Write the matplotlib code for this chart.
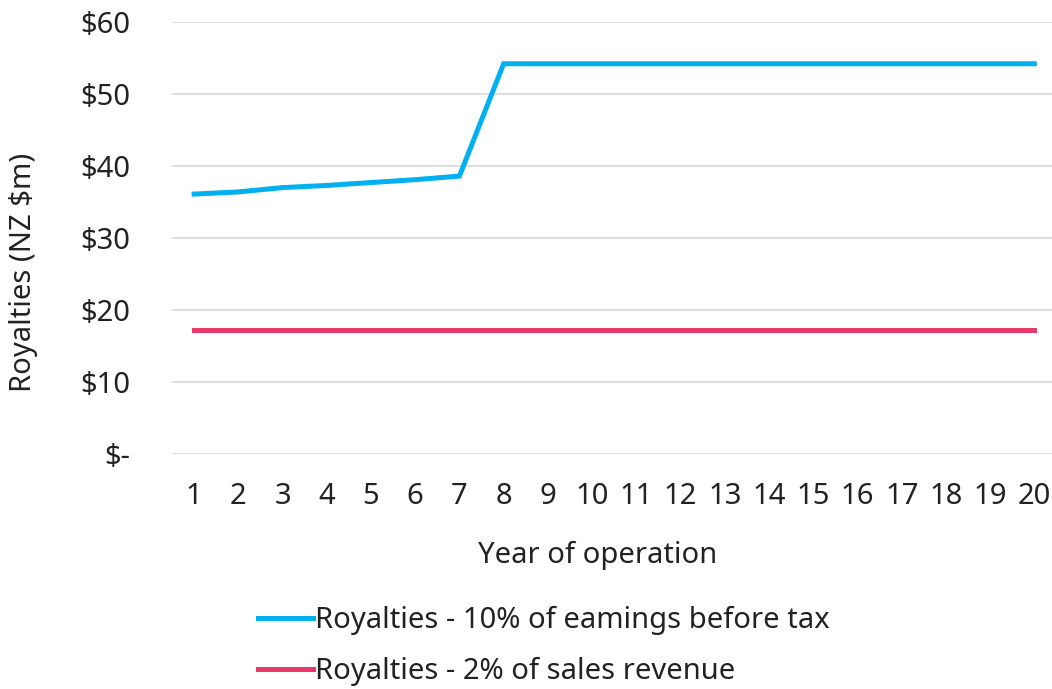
import matplotlib
matplotlib.use("Agg")

import matplotlib.pyplot as plt
from matplotlib.lines import Line2D

years = list(range(1, 21))
royalties_ebt = [36.1, 36.4, 37.0, 37.3, 37.7, 38.1, 38.6] + [54.2] * 13
royalties_sales = [17.2] * 20

y_ticks = [0, 10, 20, 30, 40, 50, 60]
y_labels = ["$-", "$10", "$20", "$30", "$40", "$50", "$60"]

label_ebt = "Royalties - 10% of eamings before tax"
label_sales = "Royalties - 2% of sales revenue"

blue = "#00B0F0"
red = "#E8386C"
txt = "#222222"
fs = 21

plt.rcParams["font.family"] = ["Noto Sans", "DejaVu Sans"]

fig = plt.figure(figsize=(10.52, 6.89), dpi=100)
ax = fig.add_axes([172 / 1052, 1 - 454 / 689, 880 / 1052, 432 / 689])

ax.plot(years, royalties_ebt, color=blue, linewidth=3.6, solid_joinstyle="miter")
ax.plot(years, royalties_sales, color=red, linewidth=3.6)

ax.set_xlim(0.5, 20.4)
ax.set_ylim(0, 60)
ax.set_yticks(y_ticks)
ax.set_yticklabels(y_labels)
ax.set_xticks(years)
ax.tick_params(axis="both", length=0, labelsize=fs, colors=txt)
ax.tick_params(axis="y", pad=30)
ax.tick_params(axis="x", pad=20)

ax.grid(axis="y", color="#D9D9D9", linewidth=1.2)
ax.set_axisbelow(True)
for s in ax.spines.values():
    s.set_visible(False)

fig.text(598 / 1052, 1 - 555 / 689, "Year of operation", ha="center",
         va="center", fontsize=fs, color=txt)
fig.text(24 / 1052, 1 - 272 / 689, "Royalties (NZ $m)", rotation=90,
         ha="center", va="center", fontsize=fs, color=txt)

handles = [Line2D([], [], color=blue, linewidth=3.6),
           Line2D([], [], color=red, linewidth=3.6)]
fig.legend(handles, [label_ebt, label_sales], loc="center left",
           bbox_to_anchor=(258 / 1052, 1 - 646 / 689), frameon=False,
           borderpad=0, borderaxespad=0,
           fontsize=fs, handlelength=1.9, handletextpad=0.05,
           labelspacing=0.75, labelcolor=txt)

fig.savefig("out.png", dpi=100)
